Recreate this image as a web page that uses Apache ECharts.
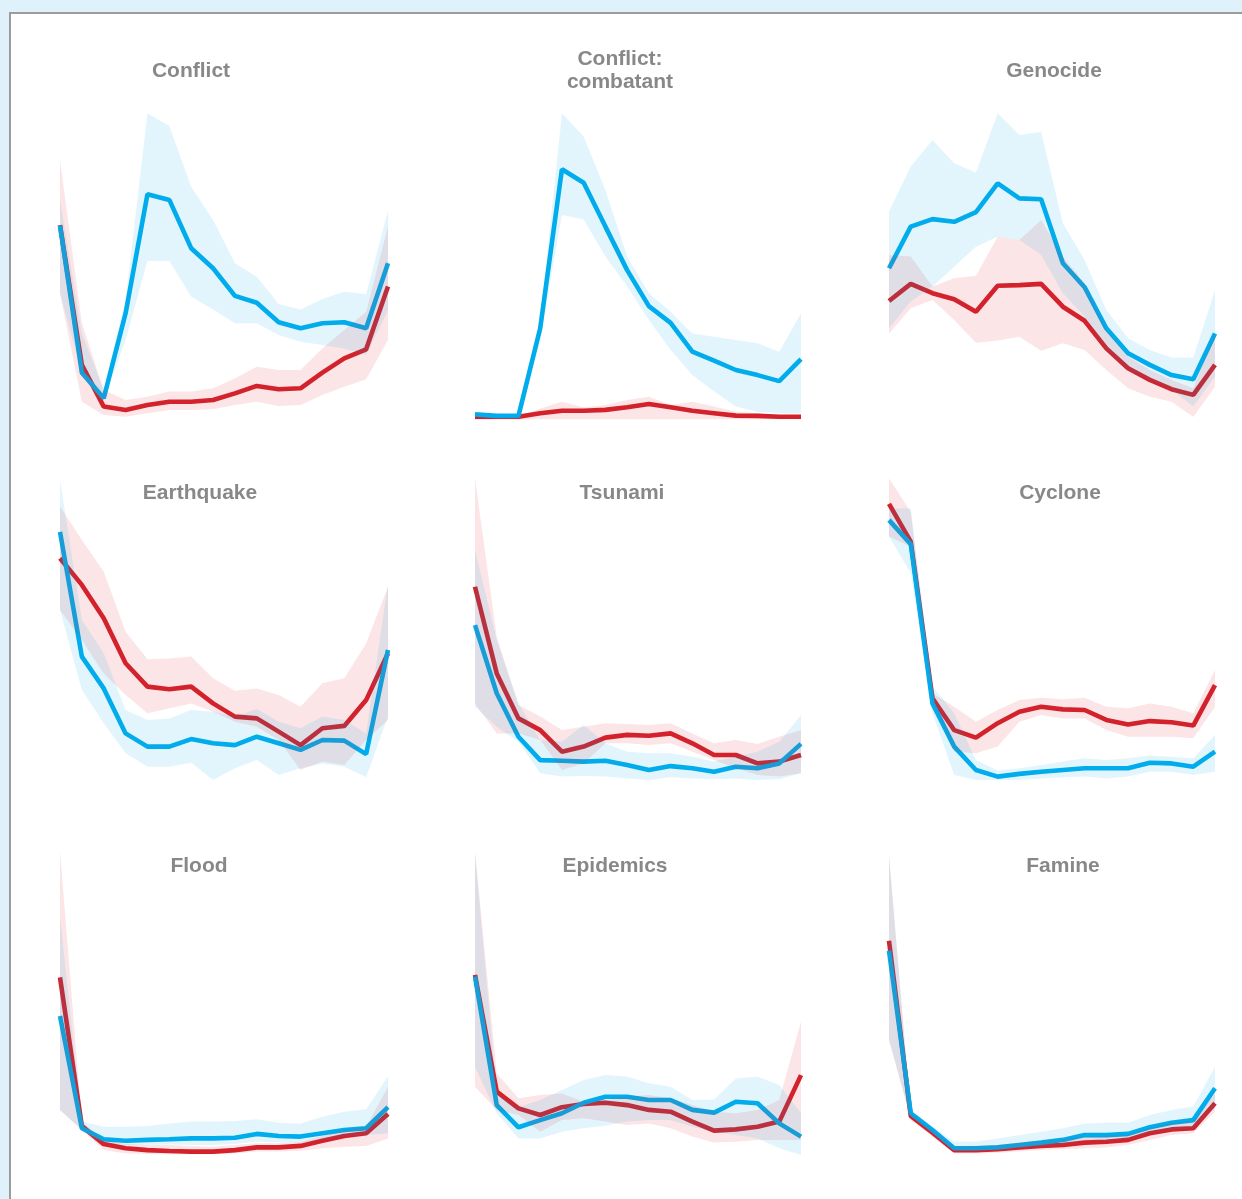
<!DOCTYPE html>
<html>
<head>
<meta charset="utf-8">
<script src="https://cdn.jsdelivr.net/npm/echarts@6/dist/echarts.min.js"></script>
<style>
  html, body { margin: 0; padding: 0; background: #dff2fc; }
  #main { width: 1242px; height: 1199px; }
</style>
</head>
<body>
<div id="main"></div>
<script>
// age groups (16 points per panel)
var categories = ['0-4', '5-9', '10-14', '15-19', '20-24', '25-29', '30-34', '35-39',
    '40-44', '45-49', '50-54', '55-59', '60-64', '65-69', '70-74', '75+'];

var titles = ['Conflict', 'Conflict:\ncombatant', 'Genocide',
    'Earthquake', 'Tsunami', 'Cyclone',
    'Flood', 'Epidemics', 'Famine'];

// Conflict
var conflictRed = [68.3, 21.7, 7.8, 6.7, 8.3, 9.4, 9.4, 10, 12.2, 14.7, 13.6, 13.9, 19.1, 23.9, 26.9, 47.8];
var conflictRedHi = [90, 35.6, 13.3, 10, 11.1, 12.8, 12.8, 13.9, 17.2, 21.1, 20, 20, 27.2, 33.3, 39.4, 67.8];
var conflictRedLo = [45.6, 9.4, 5, 4.4, 5.6, 6.7, 6.7, 6.9, 8.3, 9.4, 8, 8.3, 11.7, 14.4, 16.9, 30];
var conflictBlue = [68.1, 19.1, 10.6, 38.9, 78.6, 76.7, 60.6, 53.9, 44.7, 42.4, 35.9, 33.9, 35.6, 35.9, 33.9, 55.6];
var conflictBlueHi = [76.7, 32.2, 13.3, 43.3, 105.6, 101.3, 81.1, 70, 55.6, 51.1, 42, 40.2, 43.7, 46.1, 45.3, 73.1];
var conflictBlueLo = [45.6, 18.9, 10, 30, 56.3, 56.3, 44.4, 40.2, 35.6, 35.6, 31.7, 29.4, 28.3, 27.2, 25, 40];

// Conflict: combatant
var combatRed = [4.4, 4.4, 4.4, 5.6, 6.4, 6.4, 6.7, 7.6, 8.7, 7.6, 6.4, 5.6, 4.8, 4.7, 4.4, 4.4];
var combatRedHi = [3.9, 3.9, 4.4, 7.2, 9.4, 7.6, 8.3, 10, 11.1, 8.3, 9.4, 7.8, 6.1, 5.6, 5, 5];
var combatRedLo = [3.4, 3.4, 3.4, 3.6, 3.6, 3.6, 3.6, 3.6, 3.6, 3.6, 3.6, 3.6, 3.6, 3.6, 3.6, 3.6];
var combatBlue = [5.2, 4.7, 4.7, 33.9, 86.9, 82.4, 67.8, 53.3, 41.3, 35.7, 26.1, 23.1, 20, 18.3, 16.3, 23.6];
var combatBlueHi = [5.6, 5, 5, 36.7, 105.6, 97.8, 80, 57.8, 45.6, 39.4, 32.2, 31.1, 30, 28.9, 26.1, 38.9];
var combatBlueLo = [4.4, 4.2, 4.2, 30, 71.7, 70.2, 57.8, 47.8, 36.7, 26.7, 18.3, 12.8, 7.8, 6.1, 5.6, 5.6];

// Genocide
var genocideRed = [43, 48.7, 45.6, 43.6, 39.4, 48.1, 48.3, 48.7, 41.1, 36.4, 27.2, 20.6, 16.7, 13.6, 11.7, 21.7];
var genocideRedHi = [58.3, 57.8, 47.8, 50.6, 51.4, 64.4, 63.3, 70, 57.8, 48.9, 33.3, 24.4, 20, 16.7, 13.9, 32.2];
var genocideRedLo = [32.2, 40.6, 43.3, 36.7, 29.1, 29.8, 31.1, 26.4, 28.9, 26.7, 20, 13.9, 11.1, 9.4, 4.4, 14.4];
var genocideBlue = [53.9, 67.8, 70.3, 69.4, 72.6, 82.2, 77.2, 76.9, 55.6, 47.6, 33.9, 25.6, 21.7, 18.3, 16.9, 32.2];
var genocideBlueHi = [72.8, 87.8, 96.7, 88.9, 85.8, 105.6, 98.3, 99.4, 68.9, 56.7, 40, 30.6, 26.7, 24.2, 24.2, 46.7];
var genocideBlueLo = [33.9, 42.8, 47.8, 54.4, 61.1, 64.4, 63.3, 58.3, 45.6, 37.8, 26.7, 20, 16.7, 13.3, 7.8, 17.8];

// Earthquake
var quakeRed = [80.6, 71.7, 60.6, 45.6, 37.8, 36.9, 37.8, 32.2, 27.8, 27.2, 22.8, 18.3, 23.9, 24.7, 33.3, 48.9];
var quakeRedHi = [97.8, 86.7, 76.1, 56.1, 46.9, 47.2, 47.8, 40.6, 36.4, 37.2, 35, 31.1, 38.9, 40.6, 52.2, 71.1];
var quakeRedLo = [63.3, 53.3, 42.2, 35, 28.9, 30.6, 32.2, 29.4, 26.1, 24.4, 20, 10, 12.8, 11.7, 20, 26.7];
var quakeBlue = [89.4, 47.8, 37.2, 22.2, 17.8, 17.8, 20.3, 18.9, 18.3, 21.1, 18.9, 16.7, 20, 19.8, 15.3, 50];
var quakeBlueHi = [106.7, 60, 48.9, 30, 26.7, 27.2, 30, 29.4, 27.8, 30.3, 26.1, 23.9, 27.8, 26.7, 22.2, 72.2];
var quakeBlueLo = [63.3, 36.7, 25.6, 15.6, 11.1, 11.1, 12.4, 6.7, 10.6, 13.3, 8.3, 10.6, 12.2, 11.1, 7.6, 27.8];

// Tsunami
var tsunamiRed = [71.1, 42.2, 27.2, 23.3, 16.1, 17.8, 20.8, 21.7, 21.4, 22.2, 18.9, 15, 15, 12.2, 12.8, 15];
var tsunamiRedHi = [107.2, 54.4, 31.7, 27.8, 23.3, 24.4, 25.6, 25.3, 25, 25.6, 22.2, 18.9, 20, 18.7, 21.1, 23.3];
var tsunamiRedLo = [32.2, 22.2, 22.2, 20, 10, 12.2, 18.9, 18.9, 18.3, 18.9, 16.1, 13.3, 10.6, 8.3, 7.8, 8.9];
var tsunamiBlue = [58.3, 35.6, 21.1, 13.3, 13.1, 12.8, 13.1, 11.7, 10, 11.3, 10.6, 9.4, 11.1, 10.6, 12.2, 18.7];
var tsunamiBlueHi = [83.3, 53.3, 32.2, 20, 19.4, 25, 18.9, 16.1, 15.6, 15.6, 14.4, 12.8, 14.4, 16.1, 19.4, 28.3];
var tsunamiBlueLo = [31.1, 24.4, 19.4, 8.9, 7.8, 8, 7.8, 7.2, 6.7, 7.6, 7.2, 6.9, 7.2, 6.7, 6.9, 8.9];

// Cyclone
var cycloneRed = [98.7, 86.1, 33.9, 23.3, 20.8, 25.6, 29.4, 31.1, 30.2, 30, 26.7, 25.2, 26.3, 25.9, 24.8, 38.3];
var cycloneRedHi = [107.2, 96.1, 35.6, 31.1, 26.1, 30, 33.3, 34.1, 33.6, 34.1, 31.1, 30.6, 32.2, 31.1, 28.9, 43.3];
var cycloneRedLo = [87.8, 84.4, 33.3, 16.1, 15.6, 17.8, 26.1, 28.3, 27.2, 27.2, 23.3, 21.1, 21.1, 21.1, 20.6, 31.1];
var cycloneBlue = [93.3, 85.3, 32.2, 17.8, 10, 7.8, 8.7, 9.4, 10, 10.6, 10.6, 10.6, 12.4, 12.2, 11.1, 16.1];
var cycloneBlueHi = [97.2, 97.2, 37.8, 28.9, 13.3, 9.8, 10.6, 11.7, 12.8, 13.9, 13.3, 13.9, 14.8, 14.4, 13.9, 21.7];
var cycloneBlueLo = [87.8, 75.6, 28.9, 8.3, 6.7, 6.7, 6.7, 7.2, 7.6, 7.8, 7.2, 7.8, 9.4, 9.4, 8.3, 9.4];

// Flood
var floodRed = [65.9, 16.3, 10.3, 8.9, 8.3, 8, 7.8, 7.8, 8.3, 9.2, 9.2, 9.7, 11.4, 13, 13.9, 20.3];
var floodRedHi = [107.8, 17.8, 11.7, 10.3, 10, 10, 9.7, 9.4, 10, 10.6, 10.6, 11.1, 13, 15, 16.1, 29.4];
var floodRedLo = [21.7, 15, 8.3, 7.2, 7, 6.9, 6.9, 6.9, 7.2, 7.8, 7.8, 8.1, 8.9, 9.4, 9.7, 12.2];
var floodBlue = [53, 15.6, 11.9, 11.4, 11.7, 11.9, 12.2, 12.2, 12.4, 13.7, 13, 12.8, 13.9, 15, 15.6, 22.6];
var floodBlueHi = [86.1, 17.8, 16.1, 16.1, 16.3, 17.2, 17.8, 17.8, 18, 18.6, 17.4, 17.2, 19.4, 21.1, 21.9, 32.8];
var floodBlueLo = [21.7, 15, 10.6, 10, 10, 10.2, 10, 10, 10.3, 11.1, 10.8, 10.8, 11.7, 12.8, 13.3, 13.9];

// Epidemics
var epiRed = [66.7, 27.8, 22.2, 20, 22.6, 23.7, 24.1, 23.3, 21.7, 21.1, 17.8, 14.8, 15.2, 16.1, 17.8, 33.3];
var epiRedHi = [107.8, 33.9, 25.6, 26.7, 27.2, 24.4, 25, 26.1, 26.7, 25.6, 23.3, 21.1, 20.6, 21.7, 25, 51.1];
var epiRedLo = [29.4, 21.7, 20, 14.4, 18.3, 18.9, 17.8, 16.7, 17.2, 15.6, 12.8, 10.8, 11.1, 11.7, 11.7, 11.7];
var epiBlue = [66.1, 23.3, 15.9, 18.3, 20.6, 24.1, 26.1, 26.1, 25, 25, 21.7, 20.8, 24.4, 23.9, 17.2, 12.8];
var epiBlueHi = [107.2, 27.2, 22.6, 25, 28.3, 31.7, 33.3, 32.8, 30.6, 29.4, 25, 25.2, 32.2, 32.8, 30, 20.6];
var epiBlueLo = [36.1, 20.6, 12.2, 12.2, 14.4, 15.6, 16.4, 17.8, 18.3, 18.3, 16.1, 14.4, 13.3, 12.2, 8.9, 6.7];

// Famine
var famineRed = [78.1, 19.7, 14.1, 8.3, 8.3, 8.6, 9.2, 9.7, 10, 10.8, 11.1, 11.7, 13.9, 15.2, 15.6, 23.9];
var famineRedHi = [107, 20.6, 15, 9.4, 9.7, 10, 10.8, 11.4, 11.9, 12.8, 13, 13.3, 15.6, 17.4, 17.8, 27.2];
var famineRedLo = [45, 18.3, 12.8, 7.2, 7.2, 7.4, 7.8, 8.3, 8.6, 8.9, 9.2, 10, 11.7, 13.3, 13.9, 21.1];
var famineBlue = [74.8, 20.6, 15, 8.9, 8.9, 9.2, 10, 10.8, 11.7, 13.3, 13.3, 13.7, 15.9, 17.4, 18.3, 28.9];
var famineBlueHi = [106, 21.7, 16.1, 11.1, 11.1, 12.2, 13.3, 14.4, 15.6, 17.2, 17.4, 17.4, 20, 21.7, 22.8, 36.1];
var famineBlueLo = [45, 19.4, 13.9, 8.3, 8.3, 8.6, 8.9, 9.4, 10, 11.4, 11.4, 11.9, 13.9, 15, 15.6, 22.8];

var panels = [
    [conflictRed, conflictRedLo, conflictRedHi, conflictBlue, conflictBlueLo, conflictBlueHi],
    [combatRed, combatRedLo, combatRedHi, combatBlue, combatBlueLo, combatBlueHi],
    [genocideRed, genocideRedLo, genocideRedHi, genocideBlue, genocideBlueLo, genocideBlueHi],
    [quakeRed, quakeRedLo, quakeRedHi, quakeBlue, quakeBlueLo, quakeBlueHi],
    [tsunamiRed, tsunamiRedLo, tsunamiRedHi, tsunamiBlue, tsunamiBlueLo, tsunamiBlueHi],
    [cycloneRed, cycloneRedLo, cycloneRedHi, cycloneBlue, cycloneBlueLo, cycloneBlueHi],
    [floodRed, floodRedLo, floodRedHi, floodBlue, floodBlueLo, floodBlueHi],
    [epiRed, epiRedLo, epiRedHi, epiBlue, epiBlueLo, epiBlueHi],
    [famineRed, famineRedLo, famineRedHi, famineBlue, famineBlueLo, famineBlueHi]
];

// layout
var colLeft = [60, 475, 889];
var colWidth = [328, 326, 326];
var rowTop = [100, 470, 845];
var titleX = [191, 620, 1054, 200, 622, 1060, 199, 615, 1063];
var titleY = [71, 71, 71, 493, 493, 493, 866, 866, 866];

var RED = '#d2222b';
var BLUE = '#00adec';

var grids = [], xAxes = [], yAxes = [], series = [], graphics = [];

graphics.push({
    type: 'rect', z: -10, silent: true,
    shape: {x: 10, y: 13, width: 1240, height: 1200},
    style: {fill: '#ffffff', stroke: '#9c9c9c', lineWidth: 2}
});

function bandSeries(idx, lo, hi, color, key) {
    var diff = hi.map(function (h, i) { return Math.max(0, +(h - lo[i]).toFixed(1)); });
    return [{
        type: 'line', xAxisIndex: idx, yAxisIndex: idx, stack: key + idx,
        data: lo, symbol: 'none', silent: true, z: 3,
        lineStyle: {opacity: 0, width: 0}
    }, {
        type: 'line', xAxisIndex: idx, yAxisIndex: idx, stack: key + idx,
        data: diff, symbol: 'none', silent: true, z: 3,
        lineStyle: {opacity: 0, width: 0},
        areaStyle: {color: color, opacity: 1}
    }];
}

panels.forEach(function (p, idx) {
    var r = Math.floor(idx / 3), c = idx % 3;
    grids.push({left: colLeft[c], width: colWidth[c], top: rowTop[r], height: 330});
    xAxes.push({type: 'category', gridIndex: idx, data: categories, boundaryGap: false, show: false});
    yAxes.push({type: 'value', gridIndex: idx, min: 0, max: 110, show: false});

    series.push({
        type: 'line', xAxisIndex: idx, yAxisIndex: idx, data: p[0],
        symbol: 'none', z: 2, lineStyle: {color: RED, width: 4.6}
    });
    series.push({
        type: 'line', xAxisIndex: idx, yAxisIndex: idx, data: p[3],
        symbol: 'none', z: 2, lineStyle: {color: BLUE, width: 4.6}
    });
    series = series.concat(bandSeries(idx, p[1], p[2], 'rgba(220,40,50,0.12)', 'r'));
    series = series.concat(bandSeries(idx, p[4], p[5], 'rgba(0,165,230,0.11)', 'b'));

    graphics.push({
        type: 'text', z: 100, x: titleX[idx], y: titleY[idx],
        style: {
            text: titles[idx], fill: '#888888',
            font: 'bold 21px "Liberation Sans", Arial, sans-serif',
            align: 'center', verticalAlign: 'middle', lineHeight: 23
        }
    });
});

var myChart = echarts.init(document.getElementById('main'));
var option = {
    backgroundColor: '#dff2fc',
    animation: false,
    grid: grids,
    xAxis: xAxes,
    yAxis: yAxes,
    graphic: graphics,
    series: series
};
myChart.setOption(option);
</script>
</body>
</html>
